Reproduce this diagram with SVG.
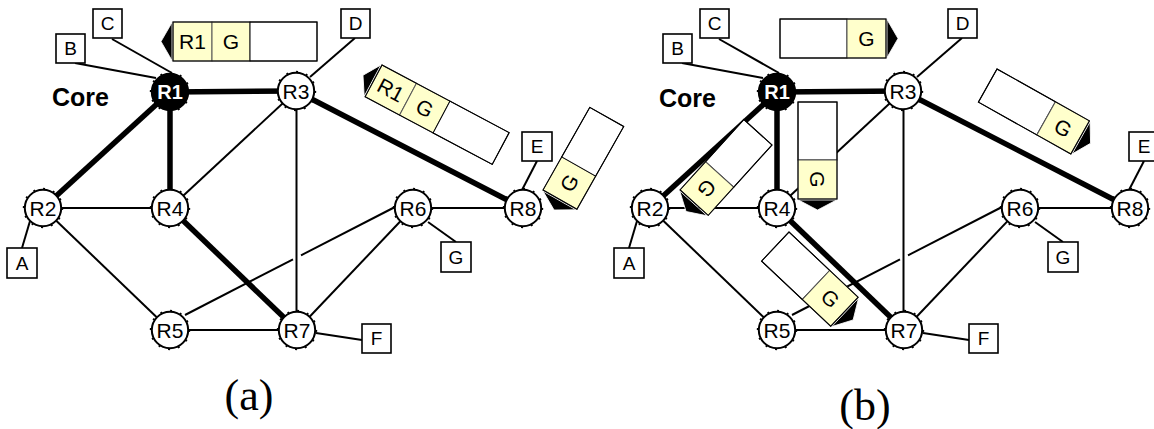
<svg xmlns="http://www.w3.org/2000/svg" xmlns:xlink="http://www.w3.org/1999/xlink" width="1154" height="429" viewBox="0 0 1154 429">
<style>
.thin{stroke:#000;stroke-width:2;fill:none}
.thick{stroke:#000;stroke-width:5.5;fill:none}
.rc{fill:#fff;stroke:#000;stroke-width:2}
.rb{fill:none;stroke:#000;stroke-width:2;stroke-dasharray:2 8}
.rl{font-family:"Liberation Sans",Arial,sans-serif;font-size:21px;text-anchor:middle;fill:#000}
.core{font-family:"Liberation Sans",Arial,sans-serif;font-size:25px;font-weight:bold;fill:#000}
.host rect{fill:#fff;stroke:#000;stroke-width:1.6}
.hl{font-family:"Liberation Sans",Arial,sans-serif;font-size:19px;text-anchor:middle;fill:#000}
.cell{fill:#fff;stroke:#000;stroke-width:1}
.yc{fill:#ffffcc;stroke:#555;stroke-width:1}
.pt{font-family:"Liberation Sans",Arial,sans-serif;font-size:21px;text-anchor:middle;fill:#000}
.arr{fill:#000;stroke:#fff;stroke-width:0.8}
.cap{font-family:"Liberation Serif","Times New Roman",serif;font-size:44px;text-anchor:middle;fill:#000}
</style>
<defs>
<g id="rt"><circle r="18.2" class="rc"/><circle r="19.2" class="rb"/></g>
<g id="rtb"><circle r="18.2" fill="#000" stroke="#000" stroke-width="2"/><circle r="19.2" class="rb"/></g>
</defs>

<!-- ================= Panel (a) ================= -->
<g id="panel-a">
<g id="a-connectors">
<line class="thick" x1="170" y1="92" x2="43" y2="208"/>
<line class="thick" x1="170" y1="92" x2="296" y2="91"/>
<line class="thick" x1="170" y1="92" x2="170" y2="208"/>
<line class="thick" x1="296" y1="91" x2="523" y2="208"/>
<line class="thick" x1="170" y1="208" x2="297" y2="330"/>
<line class="thin" x1="43" y1="208" x2="170" y2="208"/>
<line class="thin" x1="43" y1="208" x2="170" y2="330"/>
<line class="thin" x1="296" y1="91" x2="170" y2="208"/>
<line class="thin" x1="170" y1="330" x2="297" y2="330"/>
<line class="thin" x1="185" y1="315" x2="293" y2="259.4"/>
<line class="thin" x1="301" y1="255.3" x2="394" y2="207.5"/>
<line class="thin" x1="296.5" y1="91" x2="296.5" y2="330"/>
<line class="thin" x1="413" y1="208" x2="297" y2="330"/>
<line class="thin" x1="413" y1="208" x2="523" y2="208"/>
<line class="thin" x1="75" y1="63" x2="156" y2="78"/>
<line class="thin" x1="112" y1="39" x2="172" y2="73"/>
<line class="thin" x1="22" y1="248" x2="30" y2="221"/>
<line class="thin" x1="355" y1="38" x2="310" y2="77"/>
<line class="thin" x1="537" y1="161" x2="522" y2="190"/>
<line class="thin" x1="428" y1="222" x2="456" y2="242"/>
<line class="thin" x1="316" y1="333" x2="362" y2="340"/>
</g>
<g id="a-R1"><use xlink:href="#rtb" x="170" y="92"/><text class="rl" x="170" y="99" style="fill:#fff;font-weight:bold;font-size:20px">R1</text></g>
<g id="a-R2"><use xlink:href="#rt" x="43" y="208"/><text class="rl" x="43" y="215.5">R2</text></g>
<g id="a-R3"><use xlink:href="#rt" x="296" y="91"/><text class="rl" x="296" y="98.5">R3</text></g>
<g id="a-R4"><use xlink:href="#rt" x="170" y="208"/><text class="rl" x="170" y="215.5">R4</text></g>
<g id="a-R5"><use xlink:href="#rt" x="170" y="330"/><text class="rl" x="170" y="337.5">R5</text></g>
<g id="a-R6"><use xlink:href="#rt" x="413" y="208"/><text class="rl" x="413" y="215.5">R6</text></g>
<g id="a-R7"><use xlink:href="#rt" x="297" y="330"/><text class="rl" x="297" y="337.5">R7</text></g>
<g id="a-R8"><use xlink:href="#rt" x="523" y="208"/><text class="rl" x="523" y="215.5">R8</text></g>
<g id="a-A" class="host"><rect x="7" y="248" width="30" height="30"/><text class="hl" x="22" y="270">A</text></g>
<g id="a-B" class="host"><rect x="56" y="34" width="29" height="29"/><text class="hl" x="70.5" y="55">B</text></g>
<g id="a-C" class="host"><rect x="93" y="9" width="29" height="29"/><text class="hl" x="107.5" y="30">C</text></g>
<g id="a-D" class="host"><rect x="341" y="9" width="29" height="29"/><text class="hl" x="355.5" y="30">D</text></g>
<g id="a-E" class="host"><rect x="522" y="132" width="30" height="29"/><text class="hl" x="537" y="153">E</text></g>
<g id="a-F" class="host"><rect x="362" y="324" width="29" height="29"/><text class="hl" x="376.5" y="345">F</text></g>
<g id="a-G" class="host"><rect x="441" y="242" width="30" height="30"/><text class="hl" x="456" y="264">G</text></g>
<text class="core" x="52" y="106">Core</text>
<text class="cap" x="249" y="410">(a)</text>
<g id="a-pkt1" transform="translate(173,22)">
<polygon class="arr" points="-1,0.5 -12,19.5 -1,38.5"/>
<rect class="yc" x="0" y="0" width="39" height="39"/><rect class="yc" x="39" y="0" width="38" height="39"/><rect class="cell" x="77" y="0" width="67" height="39"/>
<rect x="0" y="0" width="144" height="39" fill="none" stroke="#000" stroke-width="1"/>
<text class="pt" x="19.5" y="27">R1</text><text class="pt" x="58" y="27">G</text>
</g>
<g id="a-pkt2" transform="translate(382,65) rotate(28)">
<polygon class="arr" points="-1,0.5 -12,18 -1,36"/>
<rect class="yc" x="0" y="0" width="39" height="36"/><rect class="yc" x="39" y="0" width="38" height="36"/><rect class="cell" x="77" y="0" width="67" height="36"/>
<rect x="0" y="0" width="144" height="36" fill="none" stroke="#000" stroke-width="1"/>
<text class="pt" x="19.5" y="25.5">R1</text><text class="pt" x="58" y="25.5">G</text>
</g>
<g id="a-pkt3" transform="translate(543,190) rotate(-60.5)">
<polygon class="arr" points="-1,0.5 -12,19.5 -1,38.5"/>
<rect class="yc" x="0" y="0" width="38" height="39"/><rect class="cell" x="38" y="0" width="57" height="39"/>
<rect x="0" y="0" width="95" height="39" fill="none" stroke="#000" stroke-width="1"/>
<text class="pt" x="19" y="27">G</text>
</g>
</g>

<!-- ================= Panel (b) ================= -->
<g id="panel-b">
<g id="b-connectors" transform="translate(607,0)">
<line class="thick" x1="170" y1="92" x2="43" y2="208"/>
<line class="thick" x1="170" y1="92" x2="296" y2="91"/>
<line class="thick" x1="170" y1="92" x2="170" y2="208"/>
<line class="thick" x1="296" y1="91" x2="523" y2="208"/>
<line class="thick" x1="170" y1="208" x2="297" y2="330"/>
<line class="thin" x1="43" y1="208" x2="170" y2="208"/>
<line class="thin" x1="43" y1="208" x2="170" y2="330"/>
<line class="thin" x1="296" y1="91" x2="170" y2="208"/>
<line class="thin" x1="170" y1="330" x2="297" y2="330"/>
<line class="thin" x1="185" y1="315" x2="293" y2="259.4"/>
<line class="thin" x1="301" y1="255.3" x2="394" y2="207.5"/>
<line class="thin" x1="296.5" y1="91" x2="296.5" y2="330"/>
<line class="thin" x1="413" y1="208" x2="297" y2="330"/>
<line class="thin" x1="413" y1="208" x2="523" y2="208"/>
<line class="thin" x1="75" y1="63" x2="156" y2="78"/>
<line class="thin" x1="112" y1="39" x2="172" y2="73"/>
<line class="thin" x1="22" y1="248" x2="30" y2="221"/>
<line class="thin" x1="355" y1="38" x2="310" y2="77"/>
<line class="thin" x1="537" y1="161" x2="522" y2="190"/>
<line class="thin" x1="428" y1="222" x2="456" y2="242"/>
<line class="thin" x1="316" y1="333" x2="362" y2="340"/>
</g>
<g transform="translate(607,0)">
<g id="b-R1"><use xlink:href="#rtb" x="170" y="92"/><text class="rl" x="170" y="99" style="fill:#fff;font-weight:bold;font-size:20px">R1</text></g>
<g id="b-R2"><use xlink:href="#rt" x="43" y="208"/><text class="rl" x="43" y="215.5">R2</text></g>
<g id="b-R3"><use xlink:href="#rt" x="296" y="91"/><text class="rl" x="296" y="98.5">R3</text></g>
<g id="b-R4"><use xlink:href="#rt" x="170" y="208"/><text class="rl" x="170" y="215.5">R4</text></g>
<g id="b-R5"><use xlink:href="#rt" x="170" y="330"/><text class="rl" x="170" y="337.5">R5</text></g>
<g id="b-R6"><use xlink:href="#rt" x="413" y="208"/><text class="rl" x="413" y="215.5">R6</text></g>
<g id="b-R7"><use xlink:href="#rt" x="297" y="330"/><text class="rl" x="297" y="337.5">R7</text></g>
<g id="b-R8"><use xlink:href="#rt" x="523" y="208"/><text class="rl" x="523" y="215.5">R8</text></g>
<g id="b-A" class="host"><rect x="7" y="248" width="30" height="30"/><text class="hl" x="22" y="270">A</text></g>
<g id="b-B" class="host"><rect x="56" y="34" width="29" height="29"/><text class="hl" x="70.5" y="55">B</text></g>
<g id="b-C" class="host"><rect x="93" y="9" width="29" height="29"/><text class="hl" x="107.5" y="30">C</text></g>
<g id="b-D" class="host"><rect x="341" y="9" width="29" height="29"/><text class="hl" x="355.5" y="30">D</text></g>
<g id="b-E" class="host"><rect x="522" y="132" width="30" height="29"/><text class="hl" x="537" y="153">E</text></g>
<g id="b-F" class="host"><rect x="362" y="324" width="29" height="29"/><text class="hl" x="376.5" y="345">F</text></g>
<g id="b-G" class="host"><rect x="441" y="242" width="30" height="30"/><text class="hl" x="456" y="264">G</text></g>
<text class="core" x="52" y="107">Core</text>
</g>
<text class="cap" x="865" y="420">(b)</text>
<g id="b-pkt1" transform="translate(780,19)">
<polygon class="arr" points="107,0.5 118,19.5 107,38.5"/>
<rect class="cell" x="0" y="0" width="67" height="39"/><rect class="yc" x="67" y="0" width="39" height="39"/>
<rect x="0" y="0" width="106" height="39" fill="none" stroke="#000" stroke-width="1"/>
<text class="pt" x="86.5" y="27">G</text>
</g>
<g id="b-pkt2" transform="translate(997,69) rotate(29.3)">
<polygon class="arr" points="107,0.5 118,19 107,37.5"/>
<rect class="cell" x="0" y="0" width="67" height="38"/><rect class="yc" x="67" y="0" width="39" height="38"/>
<rect x="0" y="0" width="106" height="38" fill="none" stroke="#000" stroke-width="1"/>
<text class="pt" x="86.5" y="26.5">G</text>
</g>
<g id="b-pkt3" transform="translate(772,145) rotate(132.2)">
<polygon class="arr" points="96,0.5 107,19 96,37.5"/>
<rect class="cell" x="0" y="0" width="57" height="38"/><rect class="yc" x="57" y="0" width="38" height="38"/>
<rect x="0" y="0" width="95" height="38" fill="none" stroke="#000" stroke-width="1"/>
<text class="pt" x="76" y="26.5">G</text>
</g>
<g id="b-pkt4" transform="translate(837,102) rotate(90)">
<polygon class="arr" points="98,0.5 108,19.5 98,38.5"/>
<rect class="cell" x="0" y="0" width="58" height="39"/><rect class="yc" x="58" y="0" width="39" height="39"/>
<rect x="0" y="0" width="97" height="39" fill="none" stroke="#000" stroke-width="1"/>
<text class="pt" x="77.5" y="27">G</text>
</g>
<g id="b-pkt5" transform="translate(789,232) rotate(43.3)">
<polygon class="arr" points="96,0.5 107,20 96,39.5"/>
<rect class="cell" x="0" y="0" width="56" height="40"/><rect class="yc" x="56" y="0" width="39" height="40"/>
<rect x="0" y="0" width="95" height="40" fill="none" stroke="#000" stroke-width="1"/>
<text class="pt" x="75.5" y="27.5">G</text>
</g>
</g>
</svg>
